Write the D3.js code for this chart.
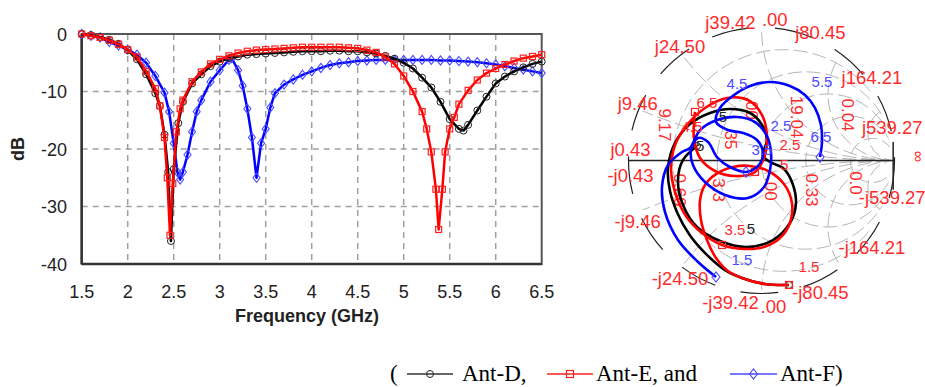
<!DOCTYPE html>
<html><head><meta charset="utf-8">
<script src="https://cdn.jsdelivr.net/npm/d3@7"></script>
<style>body{margin:0;background:#fff}svg{display:block}</style></head>
<body>
<script>
// ---------- Left chart data (|S11| in dB vs frequency) ----------
const xTicks=[1.5,2,2.5,3,3.5,4,4.5,5,5.5,6,6.5];
const yTicks=[0,-10,-20,-30,-40];
const freqD=[1.5,1.6,1.7,1.8,1.9,2.0,2.1,2.2,2.3,2.35,2.4,2.44,2.47,2.5,2.55,2.6,2.7,2.8,2.9,3.0,3.1,3.2,3.3,3.4,3.5,3.6,3.7,3.8,3.9,4.0,4.1,4.2,4.3,4.4,4.5,4.6,4.7,4.8,4.9,5.0,5.1,5.2,5.3,5.4,5.5,5.6,5.65,5.7,5.8,5.9,6.0,6.1,6.2,6.3,6.4,6.5];
const dbD=[0,-0.2,-0.5,-1.0,-1.7,-2.8,-4.4,-7.0,-10.3,-12.5,-17.5,-24,-36,-23.5,-15.5,-11.8,-8.6,-7.0,-5.6,-4.8,-4.2,-3.9,-3.6,-3.5,-3.4,-3.3,-3.2,-3.1,-3.0,-3.0,-3.0,-2.9,-2.9,-3.0,-3.0,-3.2,-3.4,-3.8,-4.3,-5.0,-6.0,-7.6,-9.3,-11.8,-14.8,-16.5,-16.8,-15.8,-13.3,-10.9,-8.6,-7.4,-6.5,-5.8,-5.2,-4.8];
const freqE=[1.5,1.6,1.7,1.8,1.9,2.0,2.1,2.2,2.3,2.35,2.4,2.43,2.46,2.49,2.53,2.57,2.6,2.7,2.8,2.9,3.0,3.1,3.2,3.3,3.4,3.5,3.6,3.7,3.8,3.9,4.0,4.1,4.2,4.3,4.4,4.5,4.6,4.7,4.8,4.9,5.0,5.1,5.2,5.25,5.3,5.35,5.38,5.42,5.45,5.5,5.55,5.6,5.7,5.8,5.9,6.0,6.1,6.2,6.3,6.4,6.5];
const dbE=[0,-0.3,-0.6,-1.1,-1.8,-2.7,-4.0,-6.5,-9.5,-12.5,-18,-25,-35,-26,-17,-13,-11.5,-8.3,-6.6,-5.2,-4.4,-3.8,-3.3,-3.0,-2.8,-2.7,-2.6,-2.5,-2.4,-2.3,-2.3,-2.3,-2.3,-2.3,-2.4,-2.5,-2.8,-3.2,-4.0,-5.2,-7.3,-10.0,-13.5,-16.5,-20.5,-27,-34,-27,-20.5,-16.5,-14.5,-12.2,-9.8,-8.0,-6.8,-6.0,-5.3,-4.7,-4.2,-3.9,-3.6];
const freqF=[1.5,1.6,1.7,1.8,1.9,2.0,2.1,2.2,2.3,2.4,2.45,2.5,2.54,2.57,2.6,2.65,2.7,2.75,2.8,2.9,3.0,3.1,3.13,3.2,3.25,3.3,3.35,3.4,3.45,3.5,3.55,3.6,3.7,3.8,3.9,4.0,4.1,4.2,4.3,4.4,4.5,4.6,4.7,4.8,4.9,5.0,5.1,5.2,5.3,5.4,5.5,5.6,5.7,5.8,5.9,6.0,6.1,6.2,6.3,6.4,6.5];
const dbF=[0,-0.3,-0.6,-1.4,-2.0,-2.7,-3.6,-5.0,-7.3,-10.2,-13.5,-19,-24,-25.3,-24,-21,-17,-13.5,-11.5,-8.3,-6.3,-4.5,-4.2,-6.3,-9.0,-13.0,-18,-25,-19,-16.5,-12.8,-10.3,-8.8,-7.9,-7.1,-6.5,-5.9,-5.4,-5.1,-4.9,-4.7,-4.6,-4.5,-4.5,-4.5,-4.5,-4.5,-4.5,-4.5,-4.6,-4.6,-4.7,-4.8,-4.9,-5.1,-5.3,-5.6,-5.9,-6.2,-6.5,-6.8];

// ---------- Smith chart data (reflection coefficient, re/im) ----------
const gammaD=[[0.207,-0.936],[0.026,-0.929],[-0.147,-0.883],[-0.28,-0.82],[-0.42,-0.70],[-0.54,-0.56],[-0.63,-0.40],[-0.688,-0.23],[-0.703,-0.056],[-0.65,0.132],[-0.538,0.274],[-0.387,0.357],[-0.237,0.387],[-0.086,0.357],[0.004,0.267],[0.041,0.154],[0.011,0.041],[0.064,-0.011],[0.162,-0.056],[0.229,-0.162],[0.259,-0.32],[0.214,-0.47],[0.086,-0.598],[-0.109,-0.65],[-0.312,-0.605],[-0.485,-0.5],[-0.59,-0.335],[-0.628,-0.147],[-0.59,0.004],[-0.485,0.109]];
const gammaE=[[0.207,-0.936],[0.026,-0.929],[-0.147,-0.883],[-0.252,-0.831],[-0.342,-0.733],[-0.41,-0.598],[-0.455,-0.447],[-0.462,-0.297],[-0.425,-0.184],[-0.342,-0.102],[-0.214,-0.049],[-0.086,-0.041],[0.049,-0.079],[0.169,-0.177],[0.229,-0.32],[0.214,-0.47],[0.139,-0.583],[0.019,-0.65],[-0.132,-0.665],[-0.297,-0.635],[-0.447,-0.545],[-0.568,-0.417],[-0.65,-0.237],[-0.68,-0.056],[-0.65,0.117],[-0.56,0.267],[-0.425,0.395],[-0.259,0.47],[-0.102,0.455],[0.004,0.342],[0.041,0.192],[0.026,0.041],[-0.049,-0.086],[-0.199,-0.117],[-0.35,-0.079],[-0.462,0.019],[-0.508,0.169],[-0.5,0.365]];
const gammaF=[[-0.342,-0.876],[-0.477,-0.763],[-0.628,-0.598],[-0.726,-0.387],[-0.748,-0.199],[-0.703,-0.034],[-0.598,0.064],[-0.538,0.094],[-0.462,0.229],[-0.335,0.305],[-0.184,0.327],[-0.049,0.289],[0.041,0.184],[0.071,0.064],[0.064,-0.071],[0.019,-0.199],[-0.102,-0.282],[-0.274,-0.259],[-0.425,-0.162],[-0.515,-0.034],[-0.53,0.079],[-0.477,0.169],[-0.402,0.139],[-0.335,0.026],[-0.237,-0.049],[-0.117,-0.086],[-0.026,-0.041],[0.011,0.056],[-0.034,0.154],[-0.139,0.207],[-0.252,0.229],[-0.342,0.289],[-0.312,0.395],[-0.207,0.492],[-0.086,0.56],[0.064,0.59],[0.214,0.56],[0.327,0.492],[0.402,0.395],[0.447,0.267],[0.455,0.139],[0.44,0.026]];
const markIdxD=[0,29], markIdxE=[0,19,32,37], markIdxF=[0,25,41];
const freqLabelsF=[["1.5",-0.147,-0.748],["2.5",0.147,0.259],["3.5",0.004,0.079],["4.5",-0.184,0.575],["5.5",0.455,0.59],["6.5",0.447,0.177]];
const freqLabelsE=[["1.5",0.357,-0.801],["2.5",0.214,0.117],["3.5",-0.199,-0.523],["4.5",-0.523,0.252],["5",0.17,-0.03],["6.5",-0.41,0.432]];
const freqLabelsD=[["5",-0.29,0.33],["5",-0.079,-0.515],["5",-0.462,0.109]];
const reactLabels=[0.43,9.46,24.50,39.42,80.45,164.21,539.27];
const resistLabels=[["9.17",-0.726,0.267],["35",-0.229,0.154],[".00",-0.071,0.395],["19.04",0.267,0.327],["0.04",0.65,0.342],["0.66",-0.613,-0.222],["3.3",-0.32,-0.222],[".00",0.071,-0.214],["0.33",0.38,-0.222],["0.0",0.711,-0.169]];
const gridR=[0.2,0.5,1,2,5];
const gridX=[0.2,0.5,1,2,5];
const legendNames=["Ant-D,","Ant-E, and","Ant-F)"];

const W=925,H=387;
const svg=d3.select("body").append("svg").attr("width",W).attr("height",H);
const colors={D:"#000000",E:"#ff0000",F:"#0000ff"};
const mcolors={D:"#222222",E:"#ff2020",F:"#4a4aff"};

// ===== Left chart =====
const x=d3.scaleLinear().domain([1.5,6.5]).range([81.7,541.7]);
const y=d3.scaleLinear().domain([-40,0]).range([264,34]);
const gl=svg.append("g");
gl.selectAll(".vg").data(xTicks.slice(1,-1)).join("line")
  .attr("x1",d=>x(d)).attr("x2",d=>x(d)).attr("y1",y(0)).attr("y2",y(-40))
  .attr("stroke","#a0a0a0").attr("stroke-width",1.5).attr("stroke-dasharray","6,5");
gl.selectAll(".hg").data(yTicks.slice(1,-1)).join("line")
  .attr("x1",x(1.5)).attr("x2",x(6.5)).attr("y1",d=>y(d)).attr("y2",d=>y(d))
  .attr("stroke","#a0a0a0").attr("stroke-width",1.5).attr("stroke-dasharray","6,5");
gl.append("rect").attr("x",x(1.5)).attr("y",y(0)).attr("width",x(6.5)-x(1.5)).attr("height",y(-40)-y(0))
  .attr("fill","none").attr("stroke","#555").attr("stroke-width",2);
gl.append("line").attr("x1",x(1.5)).attr("x2",x(1.5)).attr("y1",y(0)).attr("y2",y(-40)).attr("stroke","#333").attr("stroke-width",2.5);
gl.append("line").attr("x1",x(1.5)).attr("x2",x(6.5)).attr("y1",y(-40)).attr("y2",y(-40)).attr("stroke","#333").attr("stroke-width",2.5);
gl.selectAll(".xt").data(xTicks).join("text").attr("x",d=>x(d)).attr("y",298)
  .attr("text-anchor","middle").attr("font-family","Liberation Sans, Arial").attr("font-size",18).attr("fill","#222").text(d=>d);
gl.selectAll(".yt").data(yTicks).join("text").attr("x",67).attr("y",d=>y(d)+6.5)
  .attr("text-anchor","end").attr("font-family","Liberation Sans, Arial").attr("font-size",18).attr("fill","#222").text(d=>d);
gl.append("text").attr("x",307).attr("y",322).attr("text-anchor","middle").attr("font-family","Liberation Sans, Arial")
  .attr("font-weight","bold").attr("font-size",18).attr("fill","#222").text("Frequency (GHz)");
gl.append("text").attr("transform","translate(24,149) rotate(-90)").attr("text-anchor","middle").attr("font-family","Liberation Sans, Arial")
  .attr("font-weight","bold").attr("font-size",18).attr("fill","#222").text("dB");

function marker(g,type,cx,cy,col,sz){
  if(type==="D") g.append("circle").attr("cx",cx).attr("cy",cy).attr("r",sz*0.5).attr("fill","none").attr("stroke",col).attr("stroke-width",1);
  else if(type==="E") g.append("rect").attr("x",cx-sz/2).attr("y",cy-sz/2).attr("width",sz).attr("height",sz).attr("fill","none").attr("stroke",col).attr("stroke-width",1.2);
  else g.append("path").attr("d",`M${cx},${cy-sz*0.65}L${cx+sz*0.5},${cy}L${cx},${cy+sz*0.65}L${cx-sz*0.5},${cy}Z`).attr("fill","none").attr("stroke",col).attr("stroke-width",1.1);
}
const series=[["F",freqF,dbF],["D",freqD,dbD],["E",freqE,dbE]];
const line=d3.line().x(d=>x(d[0])).y(d=>y(d[1]));
series.forEach(([k,f,v])=>{
  const pts=f.map((ff,i)=>[ff,v[i]]);
  gl.append("path").attr("d",line(pts)).attr("fill","none").attr("stroke",colors[k]).attr("stroke-width",2.5).attr("stroke-linejoin","round");
  const mg=gl.append("g");
  pts.forEach(p=>marker(mg,k,x(p[0]),y(p[1]),mcolors[k],k==="D"?7:(k==="E"?6:7)));
});

// ===== Smith chart =====
const sx=d3.scaleLinear().domain([-1,1]).range([628.5,894.5]);
const sy=d3.scaleLinear().domain([-1,1]).range([293.5,27.5]);
const R=sx(1)-sx(0);
const gs=svg.append("g");
const defs=svg.append("defs");
defs.append("clipPath").attr("id","uc").append("circle").attr("cx",sx(0)).attr("cy",sy(0)).attr("r",R*0.97);
const grid=gs.append("g").attr("clip-path","url(#uc)");
gridR.forEach(r=>{
  grid.append("circle").attr("cx",sx(r/(1+r))).attr("cy",sy(0)).attr("r",R/(1+r))
    .attr("fill","none").attr("stroke","#b5b5b5").attr("stroke-width",1).attr("stroke-dasharray","14,5");
});
gridX.forEach(xx=>{
  [1,-1].forEach(s=>{
    grid.append("circle").attr("cx",sx(1)).attr("cy",sy(s/xx)).attr("r",R/xx)
      .attr("fill","none").attr("stroke","#b5b5b5").attr("stroke-width",1).attr("stroke-dasharray","14,5");
  });
});
gs.append("circle").attr("cx",sx(0)).attr("cy",sy(0)).attr("r",R).attr("fill","none")
  .attr("stroke","#222").attr("stroke-width",1.2).attr("stroke-dasharray","38,26");
gs.append("line").attr("x1",sx(-1)).attr("x2",sx(1)).attr("y1",sy(0)).attr("y2",sy(0)).attr("stroke","#222").attr("stroke-width",1.5);
gs.append("line").attr("x1",sx(0.99)).attr("x2",sx(0.99)).attr("y1",sy(0.14)).attr("y2",sy(-0.22)).attr("stroke","#222").attr("stroke-width",1.5);

const red="#ff2a2a";
reactLabels.forEach(X=>{
  const a=Math.PI-2*Math.atan(X/50);
  [1,-1].forEach(s=>{
    const px=sx(Math.cos(a)), py=sy(s*Math.sin(a));
    gs.append("text").attr("x",px+(X<1?2:0)).attr("y",s>0?py-2:py+19)
      .attr("text-anchor","middle").attr("font-family","Liberation Sans, Arial").attr("font-size",18.5).attr("fill",red)
      .text((s>0?"j":"-j")+X.toFixed(2));
  });
});
gs.append("text").attr("x",sx(0.1)).attr("y",sy(1)-2).attr("text-anchor","middle").attr("font-family","Liberation Sans, Arial").attr("font-size",18.5).attr("fill",red).text(".00");
gs.append("text").attr("x",sx(0.09)).attr("y",sy(-1)+19).attr("text-anchor","middle").attr("font-family","Liberation Sans, Arial").attr("font-size",18.5).attr("fill",red).text(".00");
gs.append("text").attr("transform",`translate(${sx(1)+18},${sy(0)-4}) rotate(90)`).attr("text-anchor","middle").attr("font-family","Liberation Sans, Arial").attr("font-size",16).attr("fill",red).text("∞");
resistLabels.forEach(([t,re,im])=>{
  gs.append("text").attr("transform",`translate(${sx(re)},${sy(im)}) rotate(90)`).attr("text-anchor","middle").attr("dy","0.35em")
    .attr("font-family","Liberation Sans, Arial").attr("font-size",17).attr("fill",red).text(t);
});

const sline=d3.line().x(d=>sx(d[0])).y(d=>sy(d[1])).curve(d3.curveCatmullRom);
[["D",gammaD,markIdxD],["E",gammaE,markIdxE],["F",gammaF,markIdxF]].forEach(([k,g,mi])=>{
  gs.append("path").attr("d",sline(g)).attr("fill","none").attr("stroke",colors[k]).attr("stroke-width",2.6).attr("stroke-linejoin","round");
  const mg=gs.append("g");
  mi.forEach(i=>marker(mg,k,sx(g[i][0]),sy(g[i][1]),mcolors[k],k==="D"?7:(k==="E"?7:8)));
});
[[freqLabelsF,"#4a4aff"],[freqLabelsE,red],[freqLabelsD,"#222"]].forEach(([arr,c])=>{
  arr.forEach(([t,re,im])=>gs.append("text").attr("x",sx(re)).attr("y",sy(im)).attr("dy","0.35em").attr("text-anchor","middle")
    .attr("font-family","Liberation Sans, Arial").attr("font-size",15).attr("fill",c).text(t));
});

// ===== Legend =====
const lg=svg.append("g").attr("font-family","Liberation Serif, Times New Roman").attr("font-size",23).attr("fill","#000");
lg.append("text").attr("x",390).attr("y",381).text("(");
const legX=[[407,453,462],[547,593,596],[730,777,780]];
["D","E","F"].forEach((k,i)=>{
  const [a,b,tx]=legX[i];
  lg.append("line").attr("x1",a).attr("x2",b).attr("y1",374).attr("y2",374).attr("stroke",k==="D"?"#333":mcolors[k]).attr("stroke-width",1.6);
  marker(lg,k,(a+b)/2,374,mcolors[k],k==="D"?7:(k==="E"?7:8));
  lg.append("text").attr("x",tx).attr("y",381).text(legendNames[i]);
});
</script>
</body></html>
